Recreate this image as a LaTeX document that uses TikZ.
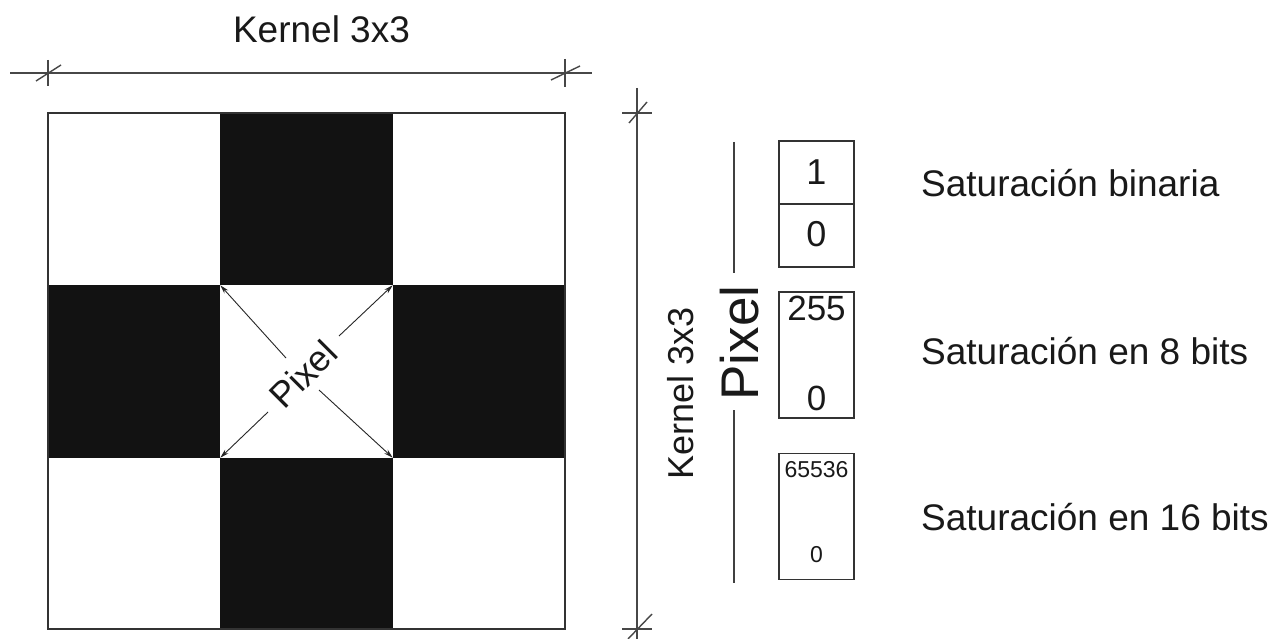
\documentclass[tikz,border=0pt]{standalone}
\usepackage{fontspec}
\setmainfont{Liberation Sans}
\usetikzlibrary{arrows.meta}
\begin{document}
\begin{tikzpicture}[x=1pt,y=-1pt,
  dimline/.style={line width=1.4pt, draw=black!72},
  frame/.style={line width=1.5pt, draw=black!80},
  darkcell/.style={fill=black!93},
  ptr/.style={line width=0.9pt, draw=black!85, -{Stealth[length=9pt,width=5pt]}},
  txt/.style={inner sep=0pt, text=black!90},
  valbox/.style={draw=black!80, line width=1.1pt, minimum width=75pt, minimum height=126pt, inner sep=0pt},
  guide/.style={line width=1.1pt, draw=black!75}]
\useasboundingbox (0,0) rectangle (1278,639);
\fill[white] (0,0) rectangle (1278,639);

% 3x3 kernel: dark cross cells and outer frame
\fill[darkcell] (220.3,113) rectangle (392.7,285.3);
\fill[darkcell] (48,285.3) rectangle (220.3,457.7);
\fill[darkcell] (392.7,285.3) rectangle (565,457.7);
\fill[darkcell] (220.3,457.7) rectangle (392.7,629);
\draw[frame] (48,113) rectangle (565,629);

% corners of the central pixel
\coordinate (ctl) at (220.3,285.3);
\coordinate (ctr) at (392.7,285.3);
\coordinate (cbl) at (220.3,457.7);
\coordinate (cbr) at (392.7,457.7);

% central label and its arrows
\node[txt, rotate=45, font=\fontsize{36}{42}\selectfont] (pixd) at (303,374) {Pixel};
\coordinate (stl) at (286,358);
\coordinate (str) at (339,336);
\coordinate (sbl) at (268,412);
\coordinate (sbr) at (319,390);
\draw[ptr] (stl) -- (ctl);
\draw[ptr] (str) -- (ctr);
\draw[ptr] (sbl) -- (cbl);
\draw[ptr] (sbr) -- (cbr);

% horizontal dimension line
\coordinate (hl) at (10,73);
\coordinate (hr) at (592,73);
\draw[dimline] (hl) -- (hr);
\draw[dimline] (48,60) -- (48,86);
\draw[dimline] (36,81) -- (61,65);
\draw[dimline] (565,59) -- (565,87);
\draw[dimline] (551,80) -- (580,66);
\node[txt, anchor=base, font=\fontsize{37}{44}\selectfont] (kh) at (321.5,43) {Kernel 3x3};

% vertical dimension line
\coordinate (vt) at (637,88);
\coordinate (vb) at (637,639);
\draw[dimline] (vt) -- (vb);
\draw[dimline] (622,113) -- (652,113);
\draw[dimline] (629,123) -- (647,102);
\draw[dimline] (622,629) -- (652,629);
\draw[dimline] (628,639) -- (652,614);
\node[txt, rotate=90, anchor=base, font=\fontsize{36}{42}\selectfont] (kv) at (693,393) {Kernel 3x3};

% pixel depth indicator
\node[txt, rotate=90, anchor=base, font=\fontsize{53}{60}\selectfont] (pv) at (758,343) {Pixel};
\coordinate (gt1) at (734,142);
\coordinate (gb1) at (734,273);
\coordinate (gt2) at (734,410);
\coordinate (gb2) at (734,583);
\draw[guide] (gt1) -- (gb1);
\draw[guide] (gt2) -- (gb2);

% value ranges
\node[valbox] (b1) at (816.5,204) {};
\draw[line width=1.1pt, draw=black!80] (b1.west) -- (b1.east);
\node[txt, font=\fontsize{36}{40}\selectfont] (b1hi) at (816.5,172) {1};
\node[txt, font=\fontsize{36}{40}\selectfont] (b1lo) at (816.5,234) {0};

\node[valbox] (b2) at (816.5,355) {};
\node[txt, font=\fontsize{35}{40}\selectfont] (b2hi) at (816.5,308) {255};
\node[txt, font=\fontsize{35}{40}\selectfont] (b2lo) at (816.5,398) {0};

\node[valbox] (b3) at (816.5,516.5) {};
\node[txt, font=\fontsize{23}{28}\selectfont] (b3hi) at (816.5,470) {65536};
\node[txt, font=\fontsize{23}{28}\selectfont] (b3lo) at (816.5,555) {0};

% captions
\node[txt, anchor=base west, font=\fontsize{37}{42}\selectfont] (l1) at (921,197) {Saturación binaria};
\node[txt, anchor=base west, font=\fontsize{37}{42}\selectfont] (l2) at (921,364) {Saturación en 8 bits};
\node[txt, anchor=base west, font=\fontsize{37}{42}\selectfont] (l3) at (921,530) {Saturación en 16 bits};
\end{tikzpicture}
\end{document}
